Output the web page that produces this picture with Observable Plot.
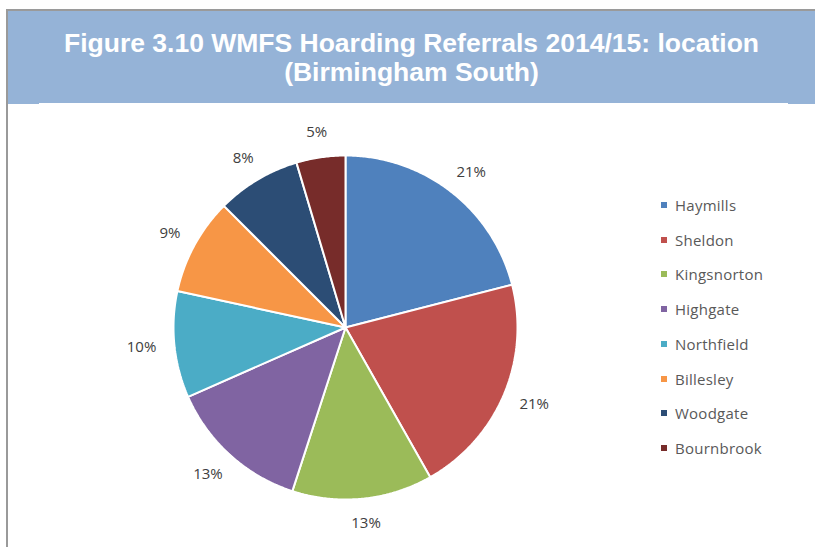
<!DOCTYPE html>
<html>
<head>
<meta charset="utf-8">
<script src="https://cdn.jsdelivr.net/npm/d3@7"></script>
<script src="https://cdn.jsdelivr.net/npm/@observablehq/plot@0.6"></script>
<style>
  body { margin: 0; background: #fff; }
  #page { position: relative; width: 815px; height: 547px; overflow: hidden; background: #fff; }
  #topline { position: absolute; left: 6px; top: 9px; width: 809px; height: 2px; background: #9a9a9a; }
  #leftline { position: absolute; left: 6px; top: 9px; width: 2px; height: 538px; background: #9a9a9a; }
  #banner { position: absolute; left: 8px; top: 11px; width: 807px; height: 93px; background: #95B3D7; }
  #title { position: absolute; left: 8px; top: 28.5px; width: 807px; text-align: center; color: #fff;
           font: bold 26.5px "Liberation Sans", Arial, sans-serif; line-height: 29.5px; }
  #chart { position: absolute; left: 39px; top: 103px; width: 749px; height: 444px; background: #fff; }
  #legend { position: absolute; left: 0; top: 0; }
  .item { position: absolute; left: 661px; height: 20px; font: 15px "Open Sans", sans-serif; color: #595959;
          line-height: 20px; white-space: nowrap; letter-spacing: 0.25px; }
  .sw { position: absolute; left: 0; top: 7px; width: 6px; height: 6px; }
  .lbl { position: absolute; left: 14px; top: 0; }
</style>
</head>
<body>
<div id="page">
  <div id="banner"></div>
  <div id="topline"></div>
  <div id="leftline"></div>
  <div id="title">Figure 3.10 WMFS Hoarding Referrals 2014/15: location<br>(Birmingham South)</div>
  <div id="chart"></div>
  <div id="legend"></div>
</div>
<script>
const categories = ["Haymills", "Sheldon", "Kingsnorton", "Highgate", "Northfield", "Billesley", "Woodgate", "Bournbrook"];
const values = [21.0, 20.8, 13.2, 13.4, 10.0, 9.1, 7.9, 4.6];
const labels = ["21%", "21%", "13%", "13%", "10%", "9%", "8%", "5%"];
const colors = ["#4F81BD", "#C0504D", "#9BBB59", "#8064A2", "#4BACC6", "#F79646", "#2C4D75", "#772C2A"];

const arcs = d3.pie().sort(null).value(d => d)(values);

// Slice outlines in unit (data) coordinates: angle clockwise from 12 o'clock
const slicePts = [];
arcs.forEach((a, i) => {
  const name = categories[i];
  slicePts.push({name, x: 0, y: 0});
  const n = Math.max(2, Math.ceil((a.endAngle - a.startAngle) / (Math.PI / 360)));
  for (let k = 0; k <= n; k++) {
    const t = a.startAngle + (a.endAngle - a.startAngle) * k / n;
    slicePts.push({name, x: Math.sin(t), y: -Math.cos(t)});
  }
  slicePts.push({name, x: 0, y: 0});
});

// Outside-end labels: gap beyond the rim plus half the label box along the direction
const gap = 0.105, halfH = 0.041;
const labelData = arcs.map((a, i) => {
  const m = (a.startAngle + a.endAngle) / 2;
  const dx = Math.sin(m), dy = -Math.cos(m);
  const halfW = labels[i].length * 0.029;
  return {text: labels[i], x: dx * (1 + gap) + dx * halfW, y: dy * (1 + gap) + dy * halfH};
});

const chart = Plot.plot({
  width: 749,
  height: 444,
  margin: 0,
  style: {background: "transparent", overflow: "visible"},
  x: {domain: [-1, 1], range: [134, 478], axis: null},
  y: {domain: [-1, 1], range: [52, 396], axis: null},
  color: {domain: categories, range: colors},
  marks: [
    Plot.line(slicePts, {x: "x", y: "y", z: "name", fill: "name", stroke: "white", strokeWidth: 2, strokeLinejoin: "miter", curve: "linear"}),
    Plot.text(labelData, {x: "x", y: "y", text: "text", fontSize: 15, fontFamily: "Open Sans", fill: "#404040"})
  ]
});
document.getElementById("chart").appendChild(chart);

const legend = document.getElementById("legend");
categories.forEach((c, i) => {
  const it = document.createElement("div");
  it.className = "item";
  it.style.top = (195 + 34.7 * i) + "px";
  const sw = document.createElement("div");
  sw.className = "sw";
  sw.style.background = colors[i];
  const lb = document.createElement("span");
  lb.className = "lbl";
  lb.textContent = c;
  it.appendChild(sw);
  it.appendChild(lb);
  legend.appendChild(it);
});
</script>
</body>
</html>
